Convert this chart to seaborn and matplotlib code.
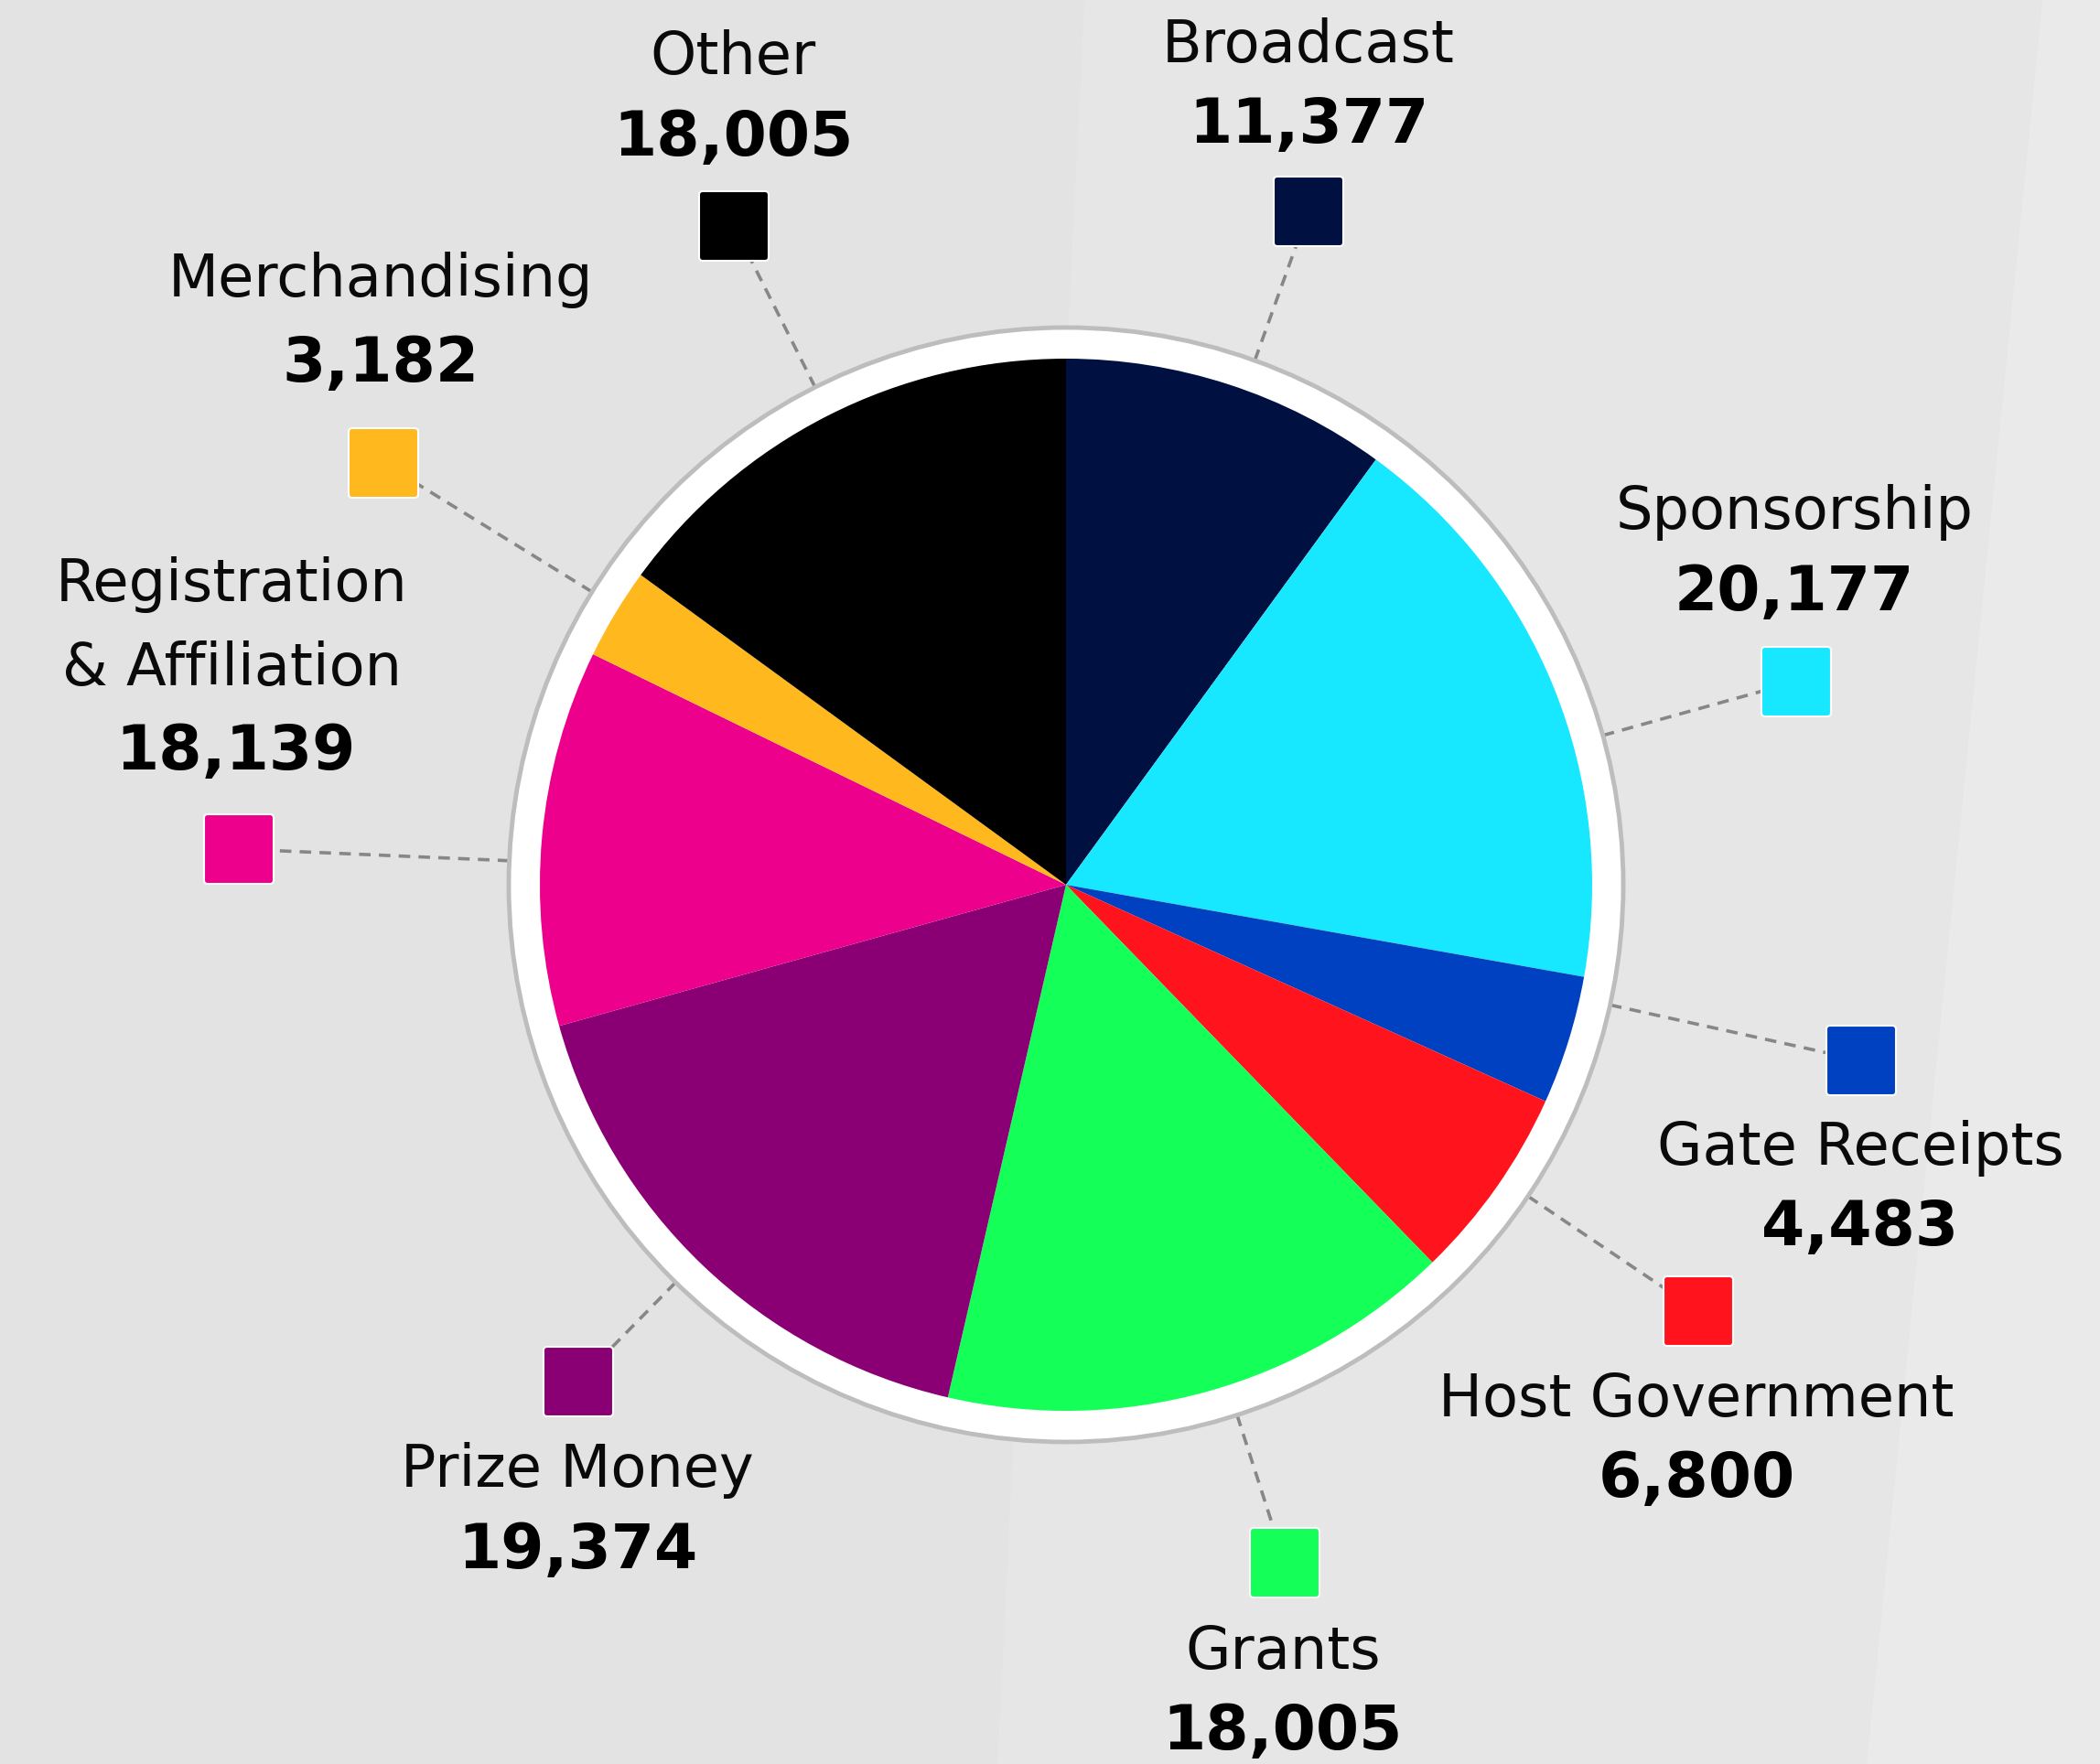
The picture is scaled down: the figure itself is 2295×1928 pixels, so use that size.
import matplotlib
matplotlib.use("Agg")
import matplotlib.pyplot as plt
import seaborn as sns
import numpy as np
from matplotlib.patches import Circle, FancyBboxPatch, Polygon

# ---- data ----
categories = ["Broadcast", "Sponsorship", "Gate Receipts", "Host Government", "Grants",
              "Prize Money", "Registration\n& Affiliation", "Merchandising", "Other"]
# values printed on the chart
values = [11377, 20177, 4483, 6800, 18005, 19374, 18139, 3182, 18005]
# slice sizes (same units)
slice_sizes = [11377, 20177, 4483, 6800, 18005, 19374, 13100, 3182, 17000]
colors = ["#001141", "#18e8ff", "#0041c2", "#ff141e", "#14ff58",
          "#8a0074", "#ec008c", "#ffb81e", "#000000"]

# ---- layout (pixel positions, y from top) ----
W, H = 2295, 1928
CX, CY = 1165, 967
R_PIE, R_RING = 575, 609
# square centre, label centre, value centre
layout = {
    "Broadcast": ((1430, 231), (1430, 50), (1430, 137)),
    "Sponsorship": ((1963, 745), (1961, 560), (1961, 648)),
    "Gate Receipts": ((2034, 1159), (2033, 1255), (2033, 1342)),
    "Host Government": ((1856, 1433), (1854, 1530), (1854, 1617)),
    "Grants": ((1404, 1708), (1402, 1806), (1402, 1893)),
    "Prize Money": ((632, 1510), (631, 1607), (631, 1695)),
    "Registration\n& Affiliation": ((261, 928), (253, 685), (258, 822)),
    "Merchandising": ((419, 506), (416, 306), (416, 398)),
    "Other": ((802, 247), (801, 63), (801, 151)),
}
SQ = 76

sns.set_theme(style="white")
plt.rcParams["font.family"] = ["DejaVu Sans"]

fig = plt.figure(figsize=(W / 100, H / 100), dpi=100)
fig.patch.set_facecolor("#e3e3e3")
ax = fig.add_axes([0, 0, 1, 1])
ax.set_facecolor("#e3e3e3")


def Y(y):
    return H - y


# background bands
ax.add_patch(Polygon([(1185, Y(0)), (W, Y(0)), (W, Y(H)), (1090, Y(H))],
                     closed=True, facecolor="#e6e6e6", edgecolor="none", zorder=0))
ax.add_patch(Polygon([(2232, Y(0)), (W, Y(0)), (W, Y(H)), (2040, Y(H))],
                     closed=True, facecolor="#eaeaea", edgecolor="none", zorder=0))

# leader lines (from ring edge towards squares)
for cat in categories:
    (sx, sy), _, _ = layout[cat]
    dx, dy = sx - CX, sy - CY
    d = np.hypot(dx, dy)
    x0, y0 = CX + dx * R_RING / d, CY + dy * R_RING / d
    ax.plot([x0, sx], [Y(y0), Y(sy)], ls=(0, (3.5, 2.5)), color="#878787", lw=2.6, zorder=1)

# ring
ax.add_patch(Circle((CX, Y(CY)), R_RING, facecolor="white", edgecolor="#bdbdbd", lw=3.5, zorder=2))

# pie
wedges, _ = ax.pie(slice_sizes, colors=colors, startangle=90, counterclock=False,
                   center=(CX, Y(CY)), radius=R_PIE, frame=True,
                   wedgeprops=dict(linewidth=0))
for w in wedges:
    w.set_zorder(3)

# squares and labels
for cat, col, val in zip(categories, colors, values):
    (sx, sy), (lx, ly), (vx, vy) = layout[cat]
    ax.add_patch(FancyBboxPatch((sx - SQ / 2 + 4, Y(sy) - SQ / 2 + 4), SQ - 8, SQ - 8,
                                boxstyle="round,pad=4,rounding_size=4",
                                facecolor=col, edgecolor="white", lw=1.5, zorder=4))
    ax.text(lx, Y(ly), cat, ha="center", va="center", fontsize=46, color="#0a0a0a",
            linespacing=1.6, multialignment="center", zorder=5)
    ax.text(vx, Y(vy), f"{val:,}", ha="center", va="center", fontsize=49,
            fontweight="bold", color="#000000", zorder=5)

ax.set_xlim(0, W)
ax.set_ylim(0, H)
ax.set_aspect("equal")
ax.axis("off")

fig.savefig("out.png", dpi=100, facecolor=fig.get_facecolor())
